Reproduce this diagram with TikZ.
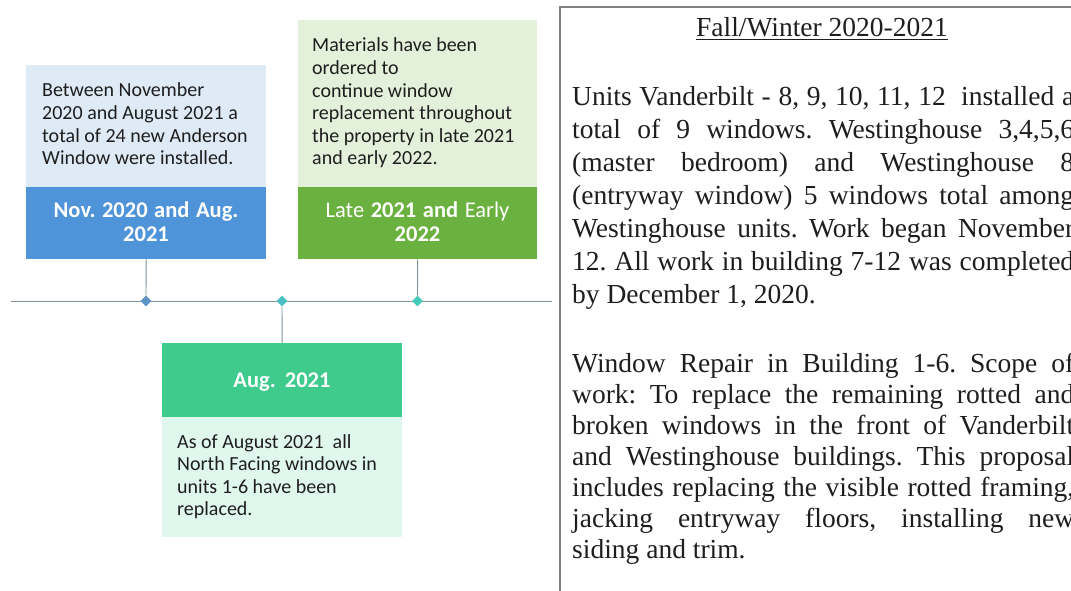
\documentclass[tikz,border=0pt]{standalone}
\usepackage{fontspec}
\setmainfont{Liberation Serif}
\newfontfamily\calfont{Carlito}
\usetikzlibrary{shapes.geometric}
\definecolor{bluelight}{HTML}{DEEAF6}
\definecolor{bluedark}{HTML}{4F94D8}
\definecolor{greenlight}{HTML}{E3F0DA}
\definecolor{greendark}{HTML}{6BB13F}
\definecolor{midlight}{HTML}{E0F7EE}
\definecolor{middark}{HTML}{3FCB8B}
\definecolor{dblue}{HTML}{5B94C8}
\definecolor{dteal}{HTML}{4BC1C4}
\definecolor{dteal2}{HTML}{45C9B9}
\definecolor{tlgray}{HTML}{7F929A}
\definecolor{bordergray}{HTML}{7F7F7F}
\definecolor{txt}{HTML}{1E1E1E}
\newcommand\natsp{\spaceskip=0pt\xspaceskip=0pt\relax}
\begin{document}
\frenchspacing
\begin{tikzpicture}[x=1pt,y=-1pt,
  execute at begin node=\natsp,
  panel/.style={rectangle, inner sep=0, anchor=north west, draw=none},
  boxtext/.style={anchor=base west, inner sep=0, text width=#1, align=justify,
    font=\calfont\fontsize{20}{22.6}\selectfont, text=txt},
  lbl/.style={anchor=base, inner sep=0, text width=236pt, align=center,
    font=\calfont\bfseries\fontsize{22.5}{24}\selectfont, text=white},
  dmark/.style={diamond, inner sep=0, minimum size=11pt},
  conn/.style={draw=tlgray, line width=0.9pt},
  rtext/.style={anchor=base west, inner sep=0, text width=502pt, align=justify, text=txt},
]
\useasboundingbox (0,0) rectangle (1071,591);
\clip (0,0) rectangle (1071,591);
\fill[white] (0,0) rectangle (1071,591);

% timeline
\coordinate (tl0) at (11,301);
\coordinate (tl1) at (552,301);
\draw[conn] (tl0) -- (tl1);

% blue box
\node[panel, fill=bluelight, minimum width=240pt, minimum height=122pt] (blight) at (26,65) {};
\node[panel, fill=bluedark, minimum width=240pt, minimum height=72pt] (bdark) at (26,187) {};
\node[boxtext=222pt] (btext) at (42,97) {\natsp Between November\\2020 and August 2021 a\\total of 24 new Anderson\\Window were installed.};
\node[lbl] (blabel) at (146,217) {\natsp Nov. 2020 and Aug.\\2021};

% green box
\node[panel, fill=greenlight, minimum width=239pt, minimum height=167pt] (glight) at (298,20) {};
\node[panel, fill=greendark, minimum width=239pt, minimum height=72pt] (gdark) at (298,187) {};
\node[boxtext=222pt] (gtext) at (312,52) {\natsp Materials have been\\ordered to\\continue window\\replacement throughout\\the property in late 2021\\and early 2022.};
\node[lbl] (glabel) at (417.5,217) {\natsp{\mdseries Late} 2021 and {\mdseries Early}\\2022};

% middle box
\node[panel, fill=middark, minimum width=240pt, minimum height=74pt] (mdark) at (162,343) {};
\node[panel, fill=midlight, minimum width=240pt, minimum height=120pt] (mlight) at (162,417) {};
\node[lbl] (mlabel) at (282,387) {\natsp Aug. 2021};
\node[boxtext=222pt] (mtext) at (177,448) {\natsp As of August 2021\ \ all\\North Facing windows in\\units 1-6 have been\\replaced.};

% markers
\node[dmark, fill=dblue] (d1) at (146,301) {};
\node[dmark, fill=dteal] (d2) at (282,301) {};
\node[dmark, fill=dteal2] (d3) at (417.5,301) {};
\draw[conn] (bdark.south) -- (d1.north);
\draw[conn] (gdark.south) -- (d3.north);
\draw[conn] (d2.south) -- (mdark.north);

% right panel
\coordinate (r0) at (1090,7);
\coordinate (r1) at (560,7);
\coordinate (r2) at (560,610);
\draw[draw=bordergray, line width=1.3pt] (r0) -- (r1) -- (r2);

\node[anchor=base, inner sep=0, text=txt, font=\fontsize{27.5}{33}\selectfont] (title) at (822,37) {\underline{Fall/Winter 2020-2021}};

\node[rtext, font=\fontsize{27.5}{33}\selectfont] (para1) at (572,106) {\natsp
\makebox[502pt][s]{Units Vanderbilt - 8, 9, 10, 11, 12\ \ installed a}\\
\makebox[502pt][s]{total of 9 windows. Westinghouse 3,4,5,6}\\
\makebox[502pt][s]{(master bedroom) and Westinghouse 8}\\
\makebox[502pt][s]{(entryway window) 5 windows total among}\\
\makebox[502pt][s]{Westinghouse units. Work began November}\\
\makebox[502pt][s]{12. All work in building 7-12 was completed}\\
by December 1, 2020.};

\node[rtext, font=\fontsize{27.5}{31}\selectfont] (para2) at (572,372) {\natsp
\makebox[502pt][s]{Window Repair in Building 1-6. Scope of}\\
\makebox[502pt][s]{work: To replace the remaining rotted and}\\
\makebox[502pt][s]{broken windows in the front of Vanderbilt}\\
\makebox[502pt][s]{and Westinghouse buildings. This proposal}\\
\makebox[502pt][s]{includes replacing the visible rotted framing,}\\
\makebox[502pt][s]{jacking entryway floors, installing new}\\
siding and trim.};
\end{tikzpicture}
\end{document}
